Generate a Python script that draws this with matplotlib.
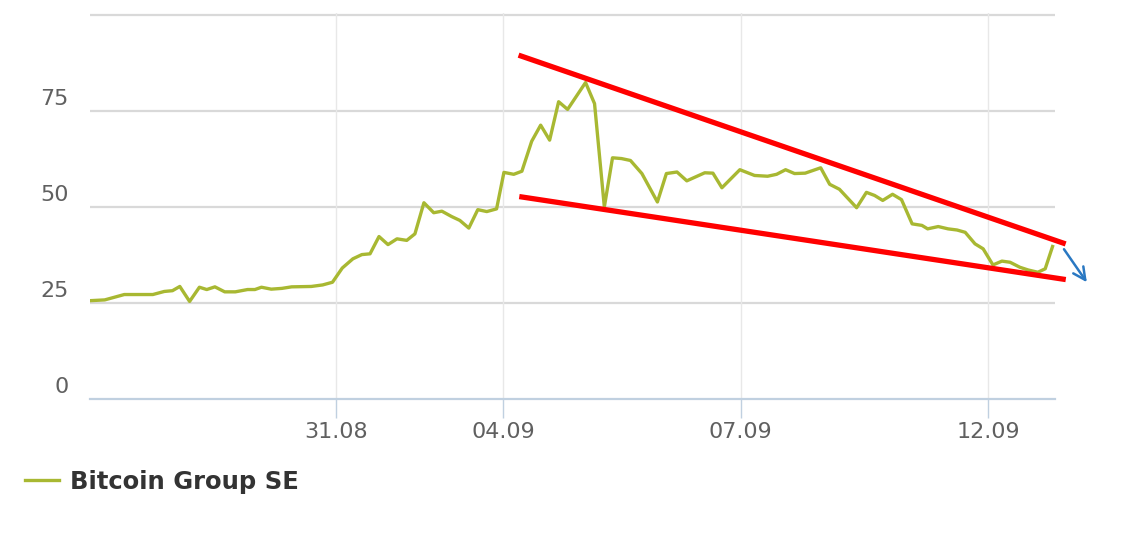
import matplotlib
matplotlib.use('Agg')
import matplotlib.pyplot as plt
import matplotlib.transforms as mtransforms

plt.rcParams['font.family'] = ['DejaVu Sans']

# trading days counted from 28.08
days = [0.00, 0.18, 0.42, 0.77, 0.91, 1.01, 1.10, 1.22, 1.34, 1.43, 1.53, 1.65,
        1.78, 1.93, 2.02, 2.10, 2.22, 2.35, 2.47, 2.71, 2.85, 2.97, 3.09, 3.22,
        3.33, 3.43, 3.54, 3.65, 3.76, 3.88, 3.98, 4.09, 4.21, 4.31, 4.43, 4.53,
        4.64, 4.75, 4.86, 4.98, 5.07, 5.19, 5.29, 5.41, 5.52, 5.63, 5.74, 5.85,
        6.07, 6.18, 6.30, 6.40, 6.51, 6.62, 6.76, 6.95, 7.06, 7.19, 7.31, 7.53,
        7.63, 7.74, 7.96, 8.14, 8.30, 8.41, 8.52, 8.63, 8.76, 8.95, 9.06, 9.18,
        9.39, 9.51, 9.61, 9.71, 9.83, 9.94, 10.07, 10.19, 10.26, 10.39, 10.51,
        10.62, 10.72, 10.84, 10.94, 11.06, 11.17, 11.27, 11.39, 11.49, 11.61,
        11.70, 11.79]
price = [25.6, 25.8, 27.2, 27.2, 28.0, 28.2, 29.3, 25.4, 29.1, 28.5, 29.2, 27.9,
         27.9, 28.5, 28.5, 29.1, 28.6, 28.8, 29.2, 29.3, 29.7, 30.4, 34.1, 36.5,
         37.6, 37.8, 42.3, 40.2, 41.7, 41.3, 43.0, 51.1, 48.5, 48.9, 47.5, 46.5,
         44.5, 49.3, 48.8, 49.5, 59.0, 58.5, 59.3, 67.1, 71.3, 67.4, 77.4, 75.4,
         82.4, 76.9, 50.0, 62.8, 62.6, 62.1, 58.7, 51.3, 58.7, 59.1, 56.8, 58.9,
         58.8, 55.0, 59.7, 58.2, 58.0, 58.5, 59.7, 58.7, 58.8, 60.2, 55.9, 54.6,
         49.8, 53.8, 53.0, 51.7, 53.3, 51.9, 45.6, 45.2, 44.3, 44.9, 44.3,
         44.0, 43.4, 40.4, 39.1, 34.9, 35.9, 35.6, 34.3, 33.6, 33.0,
         33.9, 39.7]

tick_pos = [3.01, 5.06, 7.97, 11.0]
tick_labels = ['31.08', '04.09', '07.09', '12.09']
y_ticks = [0, 25, 50, 75, 100]

# trend lines (wedge) and breakout arrow
upper_x, upper_y = [5.28, 11.92], [89.3, 40.6]
lower_x, lower_y = [5.29, 11.92], [52.6, 31.2]
arrow_from, arrow_to = (11.93, 39.0), (12.21, 30.4)

fig = plt.figure(figsize=(11.23, 5.43), dpi=100)
ax = fig.add_axes([90 / 1123, 1 - 399 / 543, 965 / 1123, 386 / 543])

ax.plot(days, price, color='#a8b832', lw=2.4, label='Bitcoin Group SE',
        solid_joinstyle='round', zorder=3)

ax.plot(upper_x, upper_y, color='#ff0000', lw=3.8, clip_on=False, zorder=4)
ax.plot(lower_x, lower_y, color='#ff0000', lw=3.8, clip_on=False, zorder=4)
ax.annotate('', xy=arrow_to, xytext=arrow_from, annotation_clip=False,
            arrowprops=dict(arrowstyle='->', color='#2a78c2', lw=1.8,
                            mutation_scale=22, shrinkA=0, shrinkB=0))

ax.set_xlim(0, 11.82)
ax.set_ylim(0, 100.5)

# horizontal grid
for v in y_ticks[1:]:
    ax.axhline(v, color='#d9d9d9', lw=1.6, zorder=1)
# vertical grid
for p in tick_pos:
    ax.axvline(p, color='#e8e8e8', lw=1.0, zorder=1)

for s in ['top', 'right', 'left']:
    ax.spines[s].set_visible(False)
ax.spines['bottom'].set_color('#c0d0e0')
ax.spines['bottom'].set_linewidth(1.6)

ax.set_xticks(tick_pos)
ax.set_xticklabels(tick_labels)
ax.tick_params(axis='x', length=13.5, width=1, color='#c0d0e0', pad=3,
               labelsize=16, labelcolor='#606060')

ax.set_yticks(y_ticks[:-1])
ax.set_yticklabels([str(v) for v in y_ticks[:-1]])
ax.tick_params(axis='y', length=0, pad=15.5, labelsize=16, labelcolor='#606060')
off = mtransforms.ScaledTranslation(0, 10 / 72, fig.dpi_scale_trans)
for lab in ax.get_yticklabels():
    lab.set_transform(lab.get_transform() + off)

leg = ax.legend(loc='center left', bbox_to_anchor=(25 / 1123, 1 - 482 / 543),
                bbox_transform=fig.transFigure, frameon=False,
                handlelength=1.4, handletextpad=0.45, borderpad=0,
                borderaxespad=0, prop={'size': 17.5, 'weight': 'bold'})
for t in leg.get_texts():
    t.set_color('#333333')

fig.savefig('out.png', dpi=100)
